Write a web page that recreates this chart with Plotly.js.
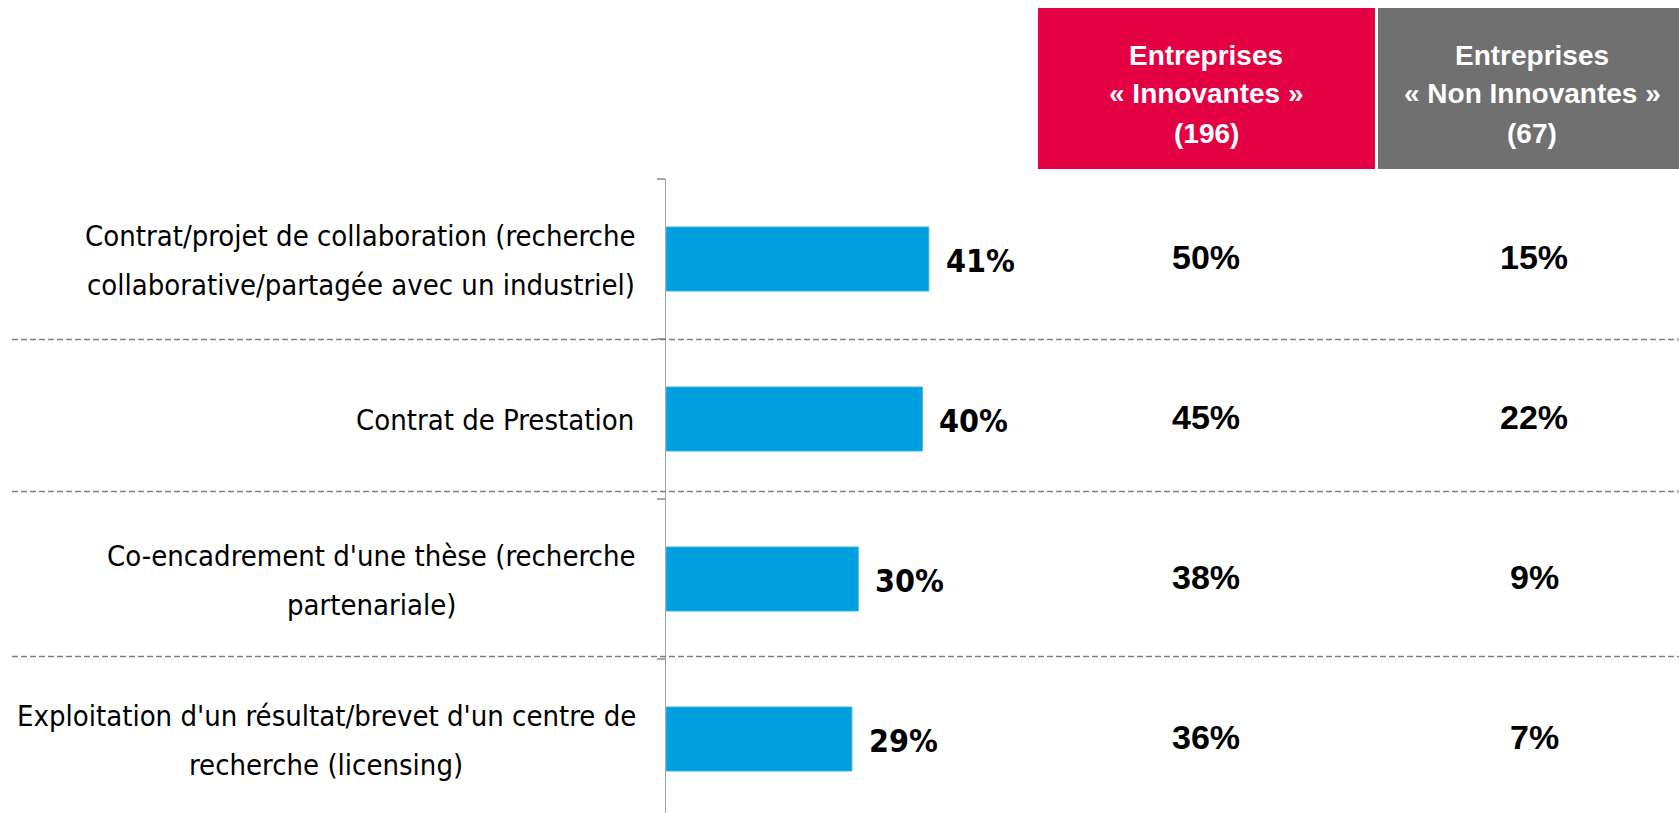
<!DOCTYPE html>
<html>
<head>
<meta charset="utf-8">
<script src="https://cdn.plot.ly/plotly-3.0.1.min.js"></script>
<style>html,body{margin:0;padding:0;background:#fff;}#chart{width:1679px;height:813px;}</style>
</head>
<body>
<div id="chart"></div>
<script>
// ---- data ----
const categories = [
  "Contrat/projet de collaboration (recherche<br>collaborative/partagée avec un industriel)",
  "Contrat de Prestation",
  "Co-encadrement d'une thèse (recherche<br>partenariale)",
  "Exploitation d'un résultat/brevet d'un centre de<br>recherche (licensing)"
];
const totalValues = [41, 40, 30, 29];
const innovValues = [50, 45, 38, 36];
const nonInnovValues = [15, 22, 9, 7];
const headerInnov = ["Entreprises", "« Innovantes »", "(196)"];
const headerNonInnov = ["Entreprises", "« Non Innovantes »", "(67)"];

// ---- layout helpers (pixel -> paper) ----
const W = 1679, H = 813;
const L = 666, R = 1679, T = 179, B = 813;
const px = x => (x - L) / (R - L);
const py = y => (B - y) / (B - T);

const narrow = "Liberation Sans Narrow, Arial Narrow, DejaVu Sans Condensed, sans-serif";
const sans = "Liberation Sans, Arial, sans-serif";

const annotations = [];
// category labels (one annotation per line, centred block)
const lineGap = 49;
categories.forEach((c, i) => {
  const lines = c.split("<br>");
  lines.forEach((ln, k) => {
    const off = (k - (lines.length - 1) / 2) * lineGap;
    annotations.push({
      xref: "paper", yref: "y", x: px(636), y: i, yshift: -off - 1,
      xanchor: lines.length > 1 ? "center" : "right", yanchor: "middle",
      text: ln, showarrow: false,
      font: {family: narrow, size: 29, color: "#000"},
      _line: true
    });
  });
});
// centre multi-line blocks on the widest line's centre (right edge at 636)
(function () {
  const c = document.createElement("canvas").getContext("2d");
  c.font = "29px 'DejaVu Sans Condensed'";
  categories.forEach((cat, i) => {
    const lines = cat.split("<br>");
    if (lines.length < 2) return;
    const widths = lines.map(l => c.measureText(l).width);
    const maxW = Math.max(...widths);
    const centre = 636 - maxW / 2;
    annotations.filter(a => a._line && a.y === i).forEach(a => { a.x = px(centre); });
  });
  annotations.forEach(a => { delete a._line; });
})();
// bar value labels
totalValues.forEach((v, i) => {
  annotations.push({
    xref: "x", yref: "y", x: v, y: i, xshift: 15, yshift: -2,
    xanchor: "left", yanchor: "middle",
    text: "<b>" + v + "%</b>", showarrow: false,
    font: {family: narrow, size: 32, color: "#000"}
  });
});
// column values
innovValues.forEach((v, i) => {
  annotations.push({
    xref: "paper", yref: "y", x: px(1206), y: i, yshift: 2,
    xanchor: "center", yanchor: "middle",
    text: "<b>" + v + "%</b>", showarrow: false,
    font: {family: sans, size: 34, color: "#000"}
  });
});
nonInnovValues.forEach((v, i) => {
  annotations.push({
    xref: "paper", yref: "y", x: px(1534), y: i, yshift: 2,
    xanchor: "center", yanchor: "middle",
    text: "<b>" + v + "%</b>", showarrow: false,
    font: {family: sans, size: 34, color: "#000"}
  });
});
// headers
const headerY = [55, 94, 133];
headerInnov.forEach((t, k) => {
  annotations.push({
    xref: "paper", yref: "paper", x: px(1206), y: py(headerY[k]),
    xanchor: "center", yanchor: "middle", text: "<b>" + t + "</b>", showarrow: false,
    font: {family: sans, size: 28, color: "#fff"}
  });
});
headerNonInnov.forEach((t, k) => {
  annotations.push({
    xref: "paper", yref: "paper", x: px(1532), y: py(headerY[k]),
    xanchor: "center", yanchor: "middle", text: "<b>" + t + "</b>", showarrow: false,
    font: {family: sans, size: 28, color: "#fff"}
  });
});

const separators = [0.503, 1.453, 2.484];
const shapes = [
  {type: "rect", xref: "paper", yref: "paper", x0: px(1038), x1: px(1375), y0: py(169), y1: py(8),
   fillcolor: "#E30043", line: {width: 0}},
  {type: "rect", xref: "paper", yref: "paper", x0: px(1378), x1: px(1679), y0: py(169), y1: py(8),
   fillcolor: "#707070", line: {width: 0}}
];
separators.forEach(s => shapes.push({
  type: "line", xref: "paper", yref: "y", x0: px(12), x1: px(1679), y0: s, y1: s,
  line: {color: "#7F7F7F", width: 1.5, dash: "6px,3px"}
}));

const trace = {
  type: "bar", orientation: "h",
  x: totalValues, y: categories,
  width: 0.4,
  marker: {color: "#009FE0", line: {color: "#3DB3EA", width: 1}},
  hoverinfo: "skip"
};

const layout = {
  width: W, height: H,
  margin: {l: L, r: W - R, t: T, b: H - B, pad: 0},
  paper_bgcolor: "#fff", plot_bgcolor: "#fff",
  showlegend: false,
  xaxis: {range: [0, (R - L) / 6.41], visible: false, fixedrange: true},
  yaxis: {
    type: "category", range: [3.4625, -0.5],
    showline: true, linecolor: "#A6A6A6", linewidth: 1.5,
    ticks: "outside", tickson: "boundaries", ticklen: 8, tickcolor: "#A6A6A6", tickwidth: 1.5,
    showticklabels: false, showgrid: false, zeroline: false, fixedrange: true
  },
  shapes: shapes,
  annotations: annotations
};

document.fonts.load("29px 'DejaVu Sans Condensed'").finally(() => {
  Plotly.newPlot("chart", [trace], layout, {displayModeBar: false, staticPlot: true});
});
</script>
</body>
</html>
